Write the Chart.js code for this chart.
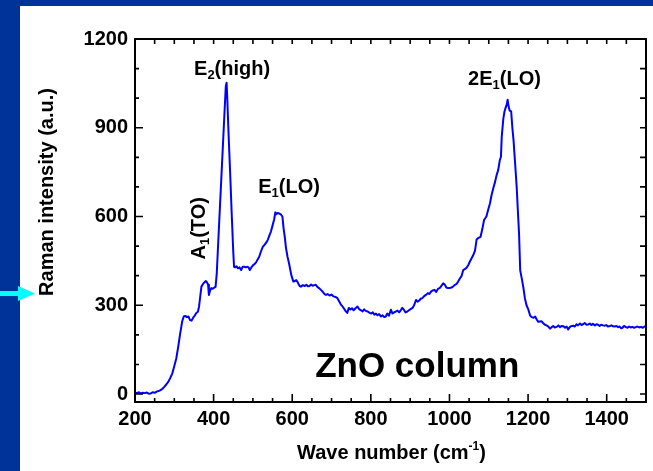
<!DOCTYPE html>
<html>
<head>
<meta charset="utf-8">
<script src="https://cdn.jsdelivr.net/npm/chart.js@4"></script>
<style>
html,body{margin:0;padding:0;background:#fff;overflow:hidden}
#wrap{position:relative;width:653px;height:471px}
</style>
</head>
<body>
<div id="wrap"><canvas id="c" width="653" height="471"></canvas></div>
<script>
// ---- data ----
const waveNumbers = [
 200,205,210,215,220,225,230,235,240,245,
 250,255,260,265,270,275,280,285,290,295,
 300,305,310,315,320,324,328,332,336,340,
 344,348,352,356,360,363,366,369,373,377,
 380,383,386,388,390,394,398,402,405,408,
 412,416,420,424,428,431,433,435,438,442,
 446,450,452,455,458,462,466,470,474,478,
 482,486,489,492,496,500,504,508,512,516,
 520,525,530,535,538,542,546,550,554,557,
 560,563,567,571,575,578,581,584,588,592,
 595,598,603,607,610,613,616,619,622,627,
 632,636,640,644,648,652,656,660,664,668,
 673,678,682,686,690,695,700,705,710,715,
 720,724,728,732,736,740,744,748,752,756,
 761,766,770,775,779,783,787,792,796,801,
 805,809,813,817,821,826,830,834,838,842,
 846,851,855,859,864,868,872,876,880,884,
 888,893,897,901,906,910,915,919,923,927,
 931,935,940,945,949,953,957,962,966,971,
 975,979,984,988,992,996,1000,1005,1009,1014,
 1018,1022,1027,1031,1035,1039,1044,1048,1052,1056,
 1060,1065,1069,1074,1079,1084,1088,1094,1099,1103,
 1107,1112,1116,1120,1124,1128,1131,1133,1137,1140,
 1143,1146,1148,1150,1153,1157,1160,1163,1167,1171,
 1174,1177,1180,1184,1188,1192,1196,1200,1205,1209,
 1214,1218,1222,1226,1230,1234,1238,1242,1247,1251,
 1256,1260,1264,1268,1273,1277,1281,1285,1290,1294,
 1298,1302,1306,1310,1315,1319,1323,1327,1332,1336,
 1340,1344,1349,1353,1357,1361,1365,1370,1374,1378,
 1382,1386,1391,1395,1399,1403,1408,1412,1416,1420,
 1425,1429,1433,1437,1440,1444,1449,1453,1457,1461,
 1465,1470,1474,1478,1483,1487,1492,1496,1500
];
const intensity = [
 5,3,6,2,4,3,5,1,2,6,
 4,8,10,13,18,25,33,42,55,70,
 95,120,160,205,245,262,264,260,262,250,
 248,258,265,274,278,296,330,363,372,378,
 382,378,369,335,345,358,356,360,362,408,
 520,630,740,850,960,1040,1052,990,880,750,
 610,480,430,428,432,425,428,419,430,430,
 428,430,428,419,428,435,439,445,455,464,
 480,497,505,514,522,536,550,570,590,614,
 608,612,610,607,600,560,531,495,464,441,
 420,400,380,382,385,380,372,365,363,368,
 365,369,364,365,370,366,368,369,362,358,
 352,345,338,335,338,333,336,330,328,324,
 312,302,296,288,280,274,291,286,290,283,
 290,296,287,283,279,286,281,279,275,272,
 276,268,272,266,270,262,266,260,262,272,
 265,285,272,276,279,282,276,283,291,285,
 276,279,283,287,291,300,318,312,316,322,
 324,330,335,341,338,346,350,352,345,356,
 358,365,374,370,360,358,358,360,363,369,
 372,380,391,400,419,422,428,436,448,458,
 468,485,522,528,531,560,588,600,625,644,
 672,698,717,740,757,790,802,870,930,955,
 968,980,995,975,958,955,900,858,780,700,
 620,543,418,390,360,323,300,288,266,260,
 258,262,252,244,245,246,240,235,232,229,
 221,226,230,225,227,232,226,230,229,224,
 228,218,226,230,231,228,236,232,238,233,
 236,240,234,235,238,233,237,232,236,234,
 230,234,232,231,233,228,230,232,229,228,
 230,226,228,222,224,230,226,224,228,225,
 227,224,226,228,225,227,224,228,226
];
const xTickValues = [200, 400, 600, 800, 1000, 1200, 1400];
const yTickValues = [0, 300, 600, 900, 1200];
const xMinorStep = 50;
const yMinorStep = 100;
const xTitle = ['Wave number (cm', '-1', ')'];
const yTitle = 'Raman intensity (a.u.)';
const peakLabels = [
  {main: 'E', sub: '2', tail: '(high)', wn: 447, val: 1078},
  {main: 'E', sub: '1', tail: '(LO)',   wn: 592, val: 679},
  {main: '2E', sub: '1', tail: '(LO)',  wn: 1140, val: 1044}
];
const rotatedLabel = {main: 'A', sub: '1', tail: '(TO)', wn: 378, val: 560};
const sampleLabel = {text: 'ZnO column', wn: 918, val: 56};

// ---- rendering ----
const FONT = "'Liberation Sans', Arial, Helvetica, sans-serif";
const pts = waveNumbers.map((x, i) => ({x: x, y: intensity[i]}));

function richWidth(c, parts) {
  let w = 0;
  parts.forEach(p => { c.font = 'bold ' + p[1] + 'px ' + FONT; w += c.measureText(p[0]).width; });
  return w;
}
function drawRich(c, parts, x, y) {
  const w = richWidth(c, parts);
  let cx = x - w / 2;
  c.textAlign = 'left';
  c.textBaseline = 'alphabetic';
  parts.forEach(p => {
    c.font = 'bold ' + p[1] + 'px ' + FONT;
    c.fillText(p[0], cx, y + p[2]);
    cx += c.measureText(p[0]).width;
  });
}

const decor = {
  id: 'decor',
  beforeDraw(chart) {
    const c = chart.ctx;
    c.save();
    c.fillStyle = '#ffffff';
    c.fillRect(0, 0, chart.width, chart.height);
    c.fillStyle = '#003399';
    c.fillRect(0, 0, 20, chart.height);
    c.fillRect(0, 0, chart.width, 6);
    c.restore();
  },
  afterDraw(chart) {
    const c = chart.ctx, a = chart.chartArea, xs = chart.scales.x, ys = chart.scales.y;
    c.save();
    c.strokeStyle = '#000';
    c.lineWidth = 2;
    c.strokeRect(a.left, a.top, a.right - a.left, a.bottom - a.top);
    c.lineWidth = 1.6;
    c.beginPath();
    for (let v = xs.min; v <= xs.max; v += xMinorStep) {
      const px = xs.getPixelForValue(v);
      const major = xTickValues.includes(v);
      c.moveTo(px, a.bottom); c.lineTo(px, a.bottom - (major ? 8 : 4));
      c.moveTo(px, a.top); c.lineTo(px, a.top + 5);
    }
    for (let v = 0; v <= 1200; v += yMinorStep) {
      const py = ys.getPixelForValue(v);
      const major = yTickValues.includes(v);
      c.moveTo(a.left, py); c.lineTo(a.left + (major ? 8 : 4), py);
      c.moveTo(a.right, py); c.lineTo(a.right - 6, py);
    }
    c.stroke();

    c.fillStyle = '#000';
    drawRich(c, [[xTitle[0], 20, 0], [xTitle[1], 12, -9], [xTitle[2], 20, 0]], (a.left + a.right) / 2 + 1, 459);
    c.save();
    c.translate(53, 192);
    c.rotate(-Math.PI / 2);
    c.font = 'bold 20px ' + FONT;
    c.textAlign = 'center';
    c.textBaseline = 'alphabetic';
    c.fillText(yTitle, 0, 0);
    c.restore();

    peakLabels.forEach(l => {
      drawRich(c, [[l.main, 20, 0], [l.sub, 13, 4], [l.tail, 20, 0]], xs.getPixelForValue(l.wn), ys.getPixelForValue(l.val));
    });
    c.save();
    c.translate(xs.getPixelForValue(rotatedLabel.wn), ys.getPixelForValue(rotatedLabel.val));
    c.rotate(-Math.PI / 2);
    drawRich(c, [[rotatedLabel.main, 20, 0], [rotatedLabel.sub, 13, 4], [rotatedLabel.tail, 20, 0]], 0, 0);
    c.restore();
    c.font = 'bold 35px ' + FONT;
    c.textAlign = 'center';
    c.textBaseline = 'alphabetic';
    c.fillText(sampleLabel.text, xs.getPixelForValue(sampleLabel.wn), ys.getPixelForValue(sampleLabel.val));

    c.fillStyle = '#00ffff';
    c.fillRect(0, 291, 19, 5);
    c.beginPath();
    c.moveTo(18, 286); c.lineTo(35, 293.5); c.lineTo(18, 301); c.closePath();
    c.fill();
    c.restore();
  }
};

new Chart(document.getElementById('c'), {
  type: 'line',
  data: {
    datasets: [{
      data: pts,
      borderColor: '#0000ff',
      borderWidth: 2,
      borderJoinStyle: 'round',
      pointRadius: 0,
      tension: 0,
      fill: false
    }]
  },
  options: {
    responsive: false,
    devicePixelRatio: 1,
    animation: false,
    layout: {padding: {top: 39, right: 7, left: 0, bottom: 0}},
    plugins: {legend: {display: false}, tooltip: {enabled: false}},
    scales: {
      x: {
        type: 'linear',
        min: 200, max: 1500,
        afterBuildTicks: s => { s.ticks = xTickValues.map(v => ({value: v})); },
        afterFit: s => { s.height = 69; },
        grid: {display: false, drawTicks: false},
        border: {display: false},
        ticks: {
          color: '#000', padding: 5, maxRotation: 0, autoSkip: false,
          font: {family: FONT, size: 20, weight: 'bold'},
          callback: v => String(v)
        }
      },
      y: {
        type: 'linear',
        min: -27, max: 1200,
        afterBuildTicks: s => { s.ticks = yTickValues.map(v => ({value: v})); },
        afterFit: s => { s.width = 135; },
        grid: {display: false, drawTicks: false},
        border: {display: false},
        ticks: {
          color: '#000', padding: 7, autoSkip: false,
          font: {family: FONT, size: 20, weight: 'bold'},
          callback: v => String(v)
        }
      }
    }
  },
  plugins: [decor]
});
</script>
</body>
</html>
